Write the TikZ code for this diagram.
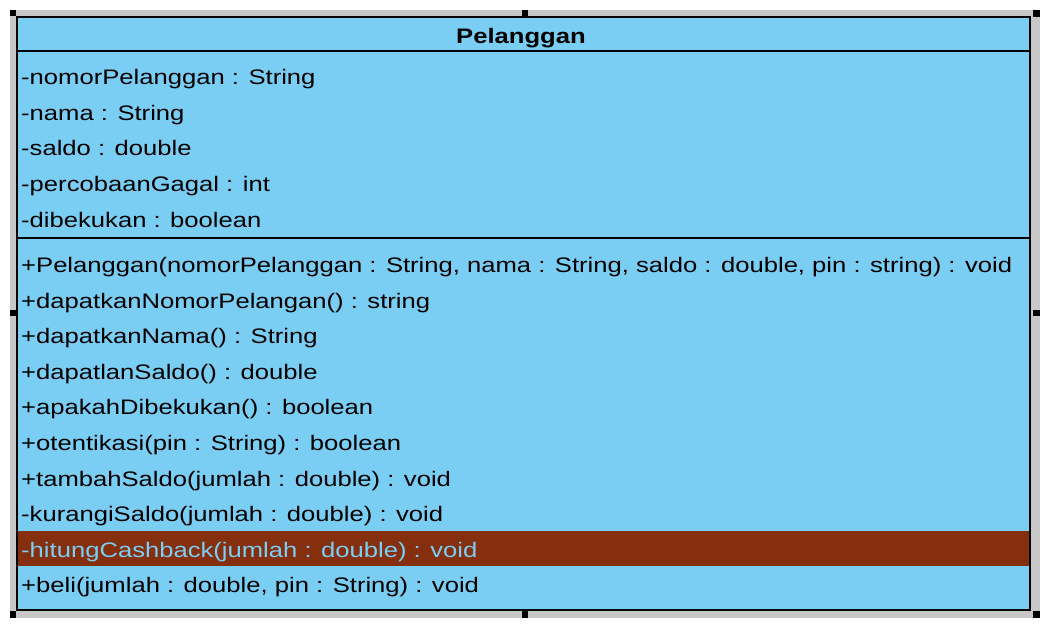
\documentclass[tikz,border=0pt]{standalone}
\usepackage{fontspec}
\setmainfont{Liberation Sans}
\definecolor{umlblue}{HTML}{7ACEF4}
\definecolor{selgray}{HTML}{C8C8C8}
\definecolor{hlbrown}{HTML}{862F0E}
\newcommand\widetxt[1]{\scalebox{1.22}[1]{#1}}
\tikzset{
  row/.style={anchor=base west, inner sep=0pt, font=\fontsize{21}{24}\selectfont},
  handle/.style={fill=black, draw=none},
  sepline/.style={draw=black, line width=2pt}
}
\begin{document}
\begin{tikzpicture}[x=1pt,y=-1pt]
\useasboundingbox[fill=white] (0,0) rectangle (1047,629);
% selection frame
\fill[selgray] (10,10) rectangle (1040,618);
% class box
\fill[umlblue] (16,16) rectangle (1031,610);
\fill[hlbrown] (17,531) rectangle (1030,566);
\draw[sepline] (17,51) -- (1030,51);
\draw[sepline] (17,238) -- (1030,238);
\draw[black, line width=2pt] (17,17) rectangle (1030,609.5);
% handles
\fill[handle] (10,10) rectangle (16,16);
\fill[handle] (522,10) rectangle (528,16);
\fill[handle] (1033,10) rectangle (1040,17);
\fill[handle] (10,310) rectangle (16,316);
\fill[handle] (1033,310) rectangle (1040,316);
\fill[handle] (10,611) rectangle (16,618);
\fill[handle] (522,611) rectangle (528,618);
\fill[handle] (1033,611) rectangle (1040,618);
% title
\node[anchor=base, inner sep=0pt, font=\fontsize{21}{24}\selectfont\bfseries] (title) at (521,43) {\widetxt{Pelanggan}};
% attributes
\node[row] (a1) at (21,84.5) {\widetxt{-nomorPelanggan : String}};
\node[row] (a2) at (21,120) {\widetxt{-nama : String}};
\node[row] (a3) at (21,155.5) {\widetxt{-saldo : double}};
\node[row] (a4) at (21,191) {\widetxt{-percobaanGagal : int}};
\node[row] (a5) at (21,227) {\widetxt{-dibekukan : boolean}};
% methods
\node[row] (m1) at (21,272.5) {\widetxt{+Pelanggan(nomorPelanggan : String, nama : String, saldo : double, pin : string) : void}};
\node[row] (m2) at (21,308) {\widetxt{+dapatkanNomorPelangan() : string}};
\node[row] (m3) at (21,343.5) {\widetxt{+dapatkanNama() : String}};
\node[row] (m4) at (21,379) {\widetxt{+dapatlanSaldo() : double}};
\node[row] (m5) at (21,414.5) {\widetxt{+apakahDibekukan() : boolean}};
\node[row] (m6) at (21,450) {\widetxt{+otentikasi(pin : String) : boolean}};
\node[row] (m7) at (21,486) {\widetxt{+tambahSaldo(jumlah : double) : void}};
\node[row] (m8) at (21,521.5) {\widetxt{-kurangiSaldo(jumlah : double) : void}};
\node[row, text=umlblue] (m9) at (21,557) {\widetxt{-hitungCashback(jumlah : double) : void}};
\node[row] (m10) at (21,592.5) {\widetxt{+beli(jumlah : double, pin : String) : void}};
\end{tikzpicture}
\end{document}
